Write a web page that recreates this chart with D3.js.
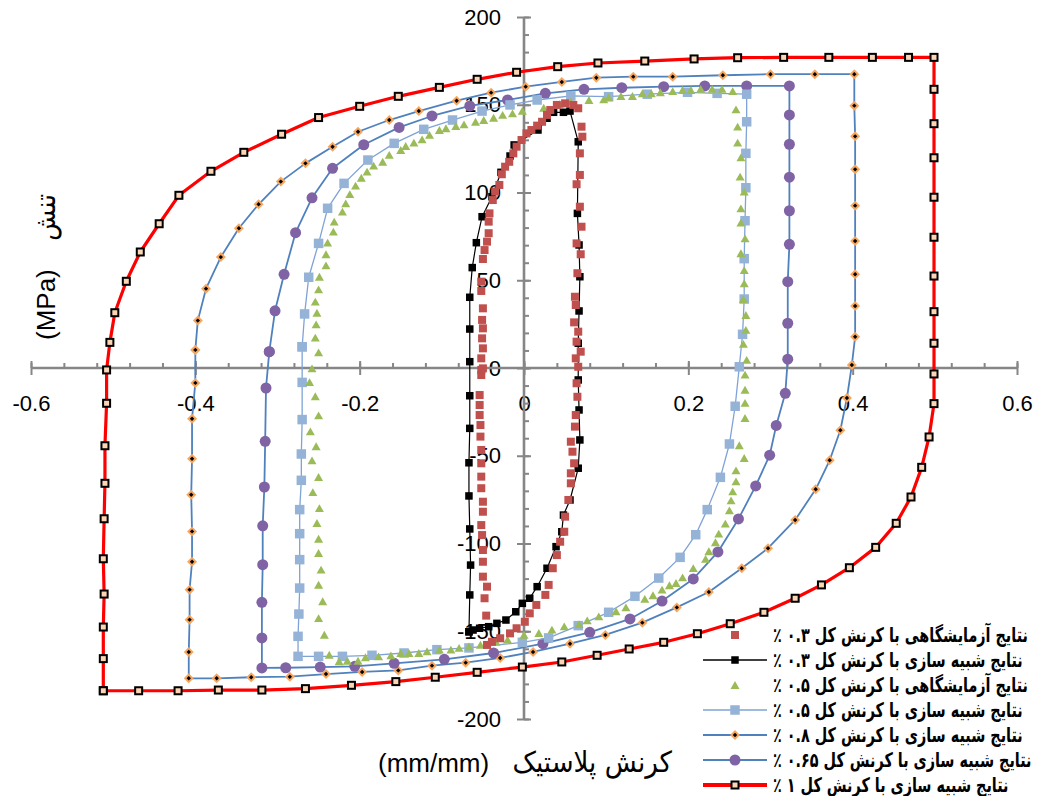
<!DOCTYPE html>
<html>
<head>
<meta charset="utf-8">
<script src="https://cdn.jsdelivr.net/npm/d3@7"></script>
<style>
  html, body { margin: 0; padding: 0; background: #fff; }
  svg { display: block; }
  .tick text { font-family: "Liberation Sans", Arial, sans-serif; font-size: 22px; fill: #000; }
</style>
</head>
<body>
<svg id="chart" width="1040" height="796"></svg>
<script>
// Plastic strain (mm/mm) vs stress (MPa) hysteresis loops

// Experimental, total strain 0.3 %
const exp03 = [[-0.052,-1.1],[-0.052,5.5],[-0.050,11.2],[-0.051,16.9],[-0.050,22.6],[-0.051,27.4],[-0.050,34.0],[-0.052,43.9],[-0.052,49.2],[-0.050,62.1],[-0.048,67.2],[-0.045,72.0],[-0.043,76.8],[-0.043,83.4],[-0.042,88.1],[-0.038,95.7],[-0.035,100.5],[-0.030,104.3],[-0.027,110.4],[-0.023,114.7],[-0.018,117.5],[-0.013,122.3],[-0.009,126.1],[-0.003,129.9],[0.003,133.7],[0.009,135.6],[0.016,138.1],[0.022,140.3],[0.028,144.2],[0.032,147.0],[0.040,149.9],[0.050,150.8],[0.060,149.9],[0.066,148.0],[0.070,137.5],[0.071,131.8],[0.068,122.3],[0.068,110.0],[0.064,104.7],[0.068,91.9],[0.070,80.5],[0.064,71.0],[0.069,64.8],[0.065,54.0],[0.062,40.6],[0.063,35.9],[0.061,26.0],[0.066,20.7],[0.064,15.0],[0.069,9.3],[0.063,5.5],[0.066,0.7],[0.064,-8.7],[0.065,-16.4],[0.063,-26.8],[0.062,-33.4],[0.057,-42.0],[0.059,-47.7],[0.061,-54.3],[0.057,-60.0],[0.057,-65.7],[0.054,-75.2],[0.050,-84.7],[0.049,-93.3],[0.044,-99.0],[0.040,-106.6],[0.035,-114.1],[0.030,-123.6],[0.026,-129.3],[0.015,-135.0],[0.007,-139.8],[0.001,-144.6],[-0.009,-148.3],[-0.017,-151.2],[-0.029,-154.0],[-0.039,-156.0],[-0.045,-157.8],[-0.046,-141.1],[-0.048,-131.2],[-0.045,-124.6],[-0.050,-118.9],[-0.050,-110.4],[-0.050,-103.7],[-0.051,-95.2],[-0.052,-89.5],[-0.050,-81.9],[-0.050,-76.2],[-0.052,-68.5],[-0.052,-61.9],[-0.052,-54.3],[-0.052,-46.7],[-0.053,-39.1],[-0.053,-32.5],[-0.054,-26.8],[-0.054,-21.1],[-0.054,-15.4],[-0.052,-4.0],[-0.050,-0.2]];

// Simulation, total strain 0.3 %
const sim03 = [[-0.067,-150.3],[-0.066,-129.3],[-0.065,-112.3],[-0.066,-91.7],[-0.067,-72.9],[-0.067,-54.0],[-0.066,-34.4],[-0.066,-15.8],[-0.066,3.6],[-0.066,22.2],[-0.066,40.3],[-0.063,57.2],[-0.058,71.4],[-0.051,86.2],[-0.039,97.6],[-0.028,111.5],[-0.017,120.8],[-0.012,127.1],[0.017,135.6],[0.028,142.3],[0.036,145.7],[0.048,145.7],[0.056,146.4],[0.066,128.9],[0.065,88.1],[0.067,70.1],[0.068,52.0],[0.067,32.5],[0.066,14.1],[0.066,-6.8],[0.067,-23.9],[0.068,-41.0],[0.066,-57.1],[0.056,-75.2],[0.048,-83.8],[0.046,-93.3],[0.039,-101.8],[0.028,-114.1],[0.016,-124.6],[0.007,-131.2],[-0.002,-134.1],[-0.010,-138.9],[-0.022,-143.6],[-0.033,-145.5],[-0.043,-147.4],[-0.054,-148.3],[-0.062,-149.3],[-0.067,-150.3]];

// Experimental, total strain 0.5 %
const exp05 = [[-0.258,-0.2],[-0.250,8.9],[-0.254,17.3],[-0.253,24.9],[-0.252,31.5],[-0.254,37.8],[-0.250,44.8],[-0.249,52.0],[-0.241,58.5],[-0.241,64.8],[-0.239,71.4],[-0.232,77.7],[-0.231,83.4],[-0.221,89.1],[-0.217,93.8],[-0.212,99.1],[-0.205,103.9],[-0.198,108.4],[-0.191,111.9],[-0.183,115.3],[-0.172,117.5],[-0.164,121.4],[-0.150,124.2],[-0.144,126.5],[-0.134,128.4],[-0.124,130.3],[-0.115,132.8],[-0.103,135.6],[-0.095,136.6],[-0.083,137.9],[-0.073,138.8],[-0.059,140.3],[-0.049,141.3],[-0.037,142.6],[-0.026,144.2],[-0.014,145.1],[-0.002,146.6],[0.024,148.3],[0.043,150.3],[0.057,151.7],[0.079,152.7],[0.097,153.1],[0.103,154.2],[0.118,155.0],[0.132,155.0],[0.144,156.5],[0.155,156.5],[0.166,157.1],[0.181,157.8],[0.193,158.4],[0.203,158.4],[0.215,159.0],[0.229,159.0],[0.241,159.0],[0.254,157.8],[0.258,147.4],[0.260,137.5],[0.260,128.4],[0.264,120.0],[0.263,109.0],[0.268,100.5],[0.264,91.0],[0.264,82.8],[0.269,73.9],[0.264,65.4],[0.268,55.8],[0.268,48.3],[0.267,39.3],[0.270,30.2],[0.270,21.7],[0.267,13.7],[0.271,4.6],[0.269,-3.8],[0.269,-12.4],[0.269,-19.9],[0.269,-28.5],[0.262,-44.0],[0.268,-51.3],[0.258,-58.3],[0.258,-64.6],[0.254,-70.3],[0.252,-75.4],[0.250,-81.1],[0.245,-88.7],[0.237,-94.4],[0.233,-99.3],[0.225,-104.4],[0.221,-108.8],[0.206,-114.0],[0.193,-119.3],[0.185,-122.5],[0.177,-123.8],[0.168,-126.3],[0.157,-129.5],[0.147,-131.6],[0.124,-136.4],[0.112,-138.6],[0.091,-141.5],[0.077,-143.8],[0.067,-145.9],[0.049,-147.2],[0.034,-149.1],[0.018,-151.0],[0.000,-152.0],[-0.020,-154.8],[-0.034,-156.1],[-0.053,-157.7],[-0.067,-158.6],[-0.079,-159.5],[-0.089,-160.5],[-0.103,-160.5],[-0.118,-161.4],[-0.128,-162.4],[-0.140,-162.4],[-0.150,-162.4],[-0.162,-163.7],[-0.177,-164.3],[-0.193,-164.8],[-0.202,-166.8],[-0.215,-166.8],[-0.225,-167.1],[-0.237,-163.4],[-0.243,-152.0],[-0.250,-142.5],[-0.245,-132.9],[-0.250,-123.5],[-0.247,-114.9],[-0.250,-105.4],[-0.250,-97.3],[-0.252,-88.3],[-0.249,-79.8],[-0.257,-70.7],[-0.250,-62.1],[-0.258,-52.6],[-0.253,-44.6],[-0.260,-36.1],[-0.250,-27.0],[-0.254,-16.1],[-0.261,-8.0]];

// Simulation, total strain 0.5 %
const sim05 = [[-0.270,12.1],[-0.267,30.8],[-0.262,51.7],[-0.250,71.0],[-0.239,91.0],[-0.219,105.2],[-0.190,118.5],[-0.158,128.0],[-0.122,136.0],[-0.087,141.3],[-0.051,146.4],[-0.017,149.9],[0.016,152.7],[0.057,155.0],[0.103,154.6],[0.150,156.0],[0.199,157.1],[0.235,156.5],[0.271,156.0],[0.271,140.3],[0.270,122.3],[0.270,102.7],[0.269,83.9],[0.268,62.3],[0.268,39.3],[0.266,19.2],[0.262,0.7],[0.257,-21.8],[0.250,-43.3],[0.239,-62.3],[0.223,-80.7],[0.209,-95.0],[0.190,-107.9],[0.164,-119.7],[0.135,-130.1],[0.103,-139.2],[0.066,-146.8],[0.030,-153.8],[-0.002,-156.3],[-0.067,-159.5],[-0.106,-160.5],[-0.146,-162.4],[-0.185,-163.7],[-0.221,-164.3],[-0.250,-164.3],[-0.275,-164.3],[-0.275,-152.9],[-0.274,-140.2],[-0.273,-125.4],[-0.273,-109.2],[-0.273,-94.4],[-0.273,-80.7],[-0.271,-64.0],[-0.271,-49.0],[-0.270,-29.4],[-0.270,-8.2],[-0.270,12.1]];

// Simulation, total strain 0.8 %
const sim08 = [[-0.400,10.3],[-0.397,27.0],[-0.387,45.2],[-0.369,63.2],[-0.347,79.6],[-0.323,93.3],[-0.296,106.2],[-0.266,116.6],[-0.233,126.1],[-0.202,134.6],[-0.164,141.3],[-0.128,146.4],[-0.082,152.3],[-0.040,156.9],[0.002,160.3],[0.046,163.0],[0.088,165.4],[0.133,166.0],[0.181,166.0],[0.242,166.8],[0.300,167.4],[0.354,167.4],[0.402,167.4],[0.402,149.5],[0.403,132.0],[0.403,113.2],[0.403,92.5],[0.403,72.4],[0.403,53.4],[0.403,35.3],[0.403,17.8],[0.399,1.7],[0.393,-17.1],[0.385,-35.5],[0.372,-52.6],[0.355,-69.1],[0.330,-86.6],[0.297,-102.7],[0.265,-114.1],[0.225,-127.6],[0.186,-136.4],[0.144,-145.1],[0.099,-152.1],[0.056,-157.1],[0.011,-161.8],[-0.029,-165.2],[-0.071,-167.9],[-0.112,-169.6],[-0.153,-172.3],[-0.197,-173.2],[-0.241,-174.4],[-0.285,-175.9],[-0.332,-176.2],[-0.374,-176.8],[-0.408,-176.8],[-0.408,-161.8],[-0.407,-143.4],[-0.407,-126.3],[-0.404,-110.4],[-0.404,-93.1],[-0.405,-72.2],[-0.404,-51.7],[-0.404,-28.9],[-0.400,-8.5],[-0.400,10.3]];

// Simulation, total strain 0.65 %
const sim065 = [[-0.310,9.3],[-0.303,32.6],[-0.292,53.4],[-0.278,77.1],[-0.258,97.0],[-0.233,113.8],[-0.195,127.2],[-0.152,137.1],[-0.112,143.6],[-0.066,149.3],[-0.020,152.7],[0.026,156.5],[0.073,158.8],[0.119,159.7],[0.170,160.3],[0.220,160.7],[0.271,160.7],[0.323,160.7],[0.323,144.2],[0.323,127.5],[0.323,108.7],[0.323,89.6],[0.323,70.5],[0.321,49.2],[0.321,25.5],[0.321,5.0],[0.318,-14.4],[0.307,-32.7],[0.299,-49.7],[0.282,-67.2],[0.261,-86.0],[0.236,-104.8],[0.206,-120.2],[0.168,-132.8],[0.129,-143.0],[0.080,-150.6],[0.023,-157.1],[-0.037,-162.4],[-0.097,-166.0],[-0.158,-168.3],[-0.206,-170.0],[-0.248,-170.4],[-0.290,-170.8],[-0.319,-170.9],[-0.319,-153.8],[-0.319,-133.5],[-0.318,-112.1],[-0.318,-89.9],[-0.316,-67.8],[-0.315,-41.8],[-0.314,-11.4],[-0.310,9.3]];

// Simulation, total strain 1 %
const sim1 = [[-0.512,-183.9],[-0.512,-165.6],[-0.512,-147.6],[-0.511,-128.8],[-0.512,-108.7],[-0.511,-85.9],[-0.510,-65.7],[-0.510,-44.3],[-0.508,-20.1],[-0.508,-1.1],[-0.504,14.6],[-0.498,31.5],[-0.484,49.4],[-0.467,66.1],[-0.444,82.2],[-0.420,98.4],[-0.381,112.1],[-0.341,122.9],[-0.295,133.2],[-0.250,142.7],[-0.200,149.1],[-0.153,154.8],[-0.103,159.9],[-0.057,164.5],[-0.009,168.5],[0.041,171.7],[0.090,173.8],[0.147,174.9],[0.207,176.1],[0.260,176.8],[0.316,177.0],[0.371,177.0],[0.424,177.0],[0.468,177.0],[0.499,177.0],[0.499,158.8],[0.499,139.2],[0.499,119.8],[0.499,97.3],[0.499,74.5],[0.499,52.4],[0.499,32.1],[0.499,14.1],[0.499,-3.4],[0.499,-20.3],[0.493,-39.3],[0.484,-56.6],[0.471,-73.5],[0.453,-88.5],[0.428,-102.2],[0.396,-113.8],[0.362,-123.6],[0.330,-131.2],[0.292,-139.2],[0.251,-145.7],[0.211,-151.4],[0.170,-156.3],[0.128,-160.1],[0.089,-163.7],[0.046,-167.5],[-0.002,-170.4],[-0.057,-173.4],[-0.108,-176.2],[-0.156,-178.7],[-0.210,-180.8],[-0.266,-182.7],[-0.319,-183.5],[-0.372,-183.5],[-0.421,-183.9],[-0.469,-183.9],[-0.512,-183.9]];

// Axis ticks
const xMajorTicks = [-0.6, -0.4, -0.2, 0, 0.2, 0.4, 0.6];
const yMajorTicks = [-200, -150, -100, -50, 0, 50, 100, 150, 200];

// Legend entries (top to bottom)
const legendLabels = [
  "نتایج آزمایشگاهی با کرنش کل ۰.۳ ٪",
  "نتایج شبیه سازی با کرنش کل ۰.۳ ٪",
  "نتایج آزمایشگاهی با کرنش کل ۰.۵ ٪",
  "نتایج شبیه سازی با کرنش کل ۰.۵ ٪",
  "نتایج شبیه سازی با کرنش کل ۰.۸ ٪",
  "نتایج شبیه سازی با کرنش کل ۰.۶۵ ٪",
  "نتایج شبیه سازی با کرنش کل ۱ ٪"
];

const xTitle = "کرنش پلاستیک";
const xUnit = "(mm/mm)";
const yTitle = "تنش";
const yUnit = "(MPa)";

// ---------------------------------------------------------------
const svg = d3.select("#chart");
const x = d3.scaleLinear().domain([-0.6, 0.6]).range([31, 1017]);
const y = d3.scaleLinear().domain([-200, 200]).range([719, 17]);
const x0 = x(0), y0 = y(0);
const axisColor = "#868686";
const persianFont = "DejaVu Sans Condensed, DejaVu Sans, sans-serif";

// Series styles
const styles = {
  exp03:  { line: null, marker: "square", fill: "#c0504d", size: 8 },
  sim03:  { line: "#000", lw: 1.2, marker: "square", fill: "#000", size: 7.5 },
  exp05:  { line: null, marker: "triangle", fill: "#9bbb59", size: 9 },
  sim05:  { line: "#7fa3d6", lw: 1.3, marker: "square", fill: "#95b3d7", size: 9.5 },
  sim08:  { line: "#4f81bd", lw: 1.8, marker: "diamond", fill: "#f7a65e", size: 10 },
  sim065: { line: "#4f81bd", lw: 1.8, marker: "circle", fill: "#7f63a4", size: 11 },
  sim1:   { line: "#ff0000", lw: 3.2, marker: "squareOpen", fill: "#fcd5b4", stroke: "#000", size: 7 }
};

// ---------- axes ----------
const axes = svg.append("g");
const fmtX = d => d === 0 ? "0" : d.toFixed(1);
const fmtY = d => String(d);

// x axis: labels below, major ticks crossing, minor ticks on the top side
const xMinor = d3.range(-15, 16).map(i => i * 0.04);
axes.append("g").attr("transform", `translate(0,${y0})`)
  .call(d3.axisTop(x).tickValues(xMinor).tickSize(5).tickFormat(""))
  .call(g => g.select(".domain").remove());
axes.append("g").attr("transform", `translate(0,${y0})`)
  .call(d3.axisTop(x).tickValues(xMajorTicks).tickSize(7).tickFormat(""))
  .call(g => g.select(".domain").remove());
axes.append("g").attr("transform", `translate(0,${y0})`)
  .call(d3.axisBottom(x).tickValues(xMajorTicks).tickSize(7).tickPadding(20).tickFormat(fmtX))
  .call(g => g.select(".domain").remove());

// y axis: labels on the left, major ticks crossing, minor ticks on the right side
const yMinor = d3.range(-20, 21).map(i => i * 10);
axes.append("g").attr("transform", `translate(${x0},0)`)
  .call(d3.axisRight(y).tickValues(yMinor).tickSize(5).tickFormat(""))
  .call(g => g.select(".domain").remove());
axes.append("g").attr("transform", `translate(${x0},0)`)
  .call(d3.axisRight(y).tickValues(yMajorTicks).tickSize(7).tickFormat(""))
  .call(g => g.select(".domain").remove());
axes.append("g").attr("transform", `translate(${x0},0)`)
  .call(d3.axisLeft(y).tickValues(yMajorTicks).tickSize(7).tickPadding(16).tickFormat(fmtY))
  .call(g => g.select(".domain").remove());

axes.selectAll(".tick line").attr("stroke", axisColor).attr("stroke-width", 2);
axes.append("line").attr("x1", x(-0.6)).attr("x2", x(0.6)).attr("y1", y0).attr("y2", y0)
  .attr("stroke", axisColor).attr("stroke-width", 2.6);
axes.append("line").attr("x1", x0).attr("x2", x0).attr("y1", y(200)).attr("y2", y(-200))
  .attr("stroke", axisColor).attr("stroke-width", 2.6);

// ---------- axis titles ----------
svg.append("text")
  .attr("x", 378).attr("y", 772)
  .attr("font-family", "Liberation Sans, Arial, sans-serif")
  .attr("font-size", 26).attr("fill", "#000")
  .text(xUnit);
svg.append("text")
  .attr("x", 672).attr("y", 772).attr("text-anchor", "end")
  .attr("font-family", persianFont)
  .attr("font-size", 29).attr("fill", "#000")
  .text(xTitle);

const yt = svg.append("g").attr("transform", "translate(55,0) rotate(-90)");
yt.append("text").attr("x", -340).attr("y", 0)
  .attr("font-family", "Liberation Sans, Arial, sans-serif")
  .attr("font-size", 26).attr("fill", "#000").text(yUnit);
yt.append("text").attr("x", -194).attr("y", 0).attr("text-anchor", "end")
  .attr("font-family", persianFont)
  .attr("font-size", 28).attr("fill", "#000").text(yTitle);

// ---------- markers ----------
function drawMarker(g, kind, cx, cy, st) {
  const s = st.size;
  if (kind === "square") {
    g.append("rect").attr("x", cx - s / 2).attr("y", cy - s / 2).attr("width", s).attr("height", s)
      .attr("fill", st.fill);
  } else if (kind === "squareOpen") {
    g.append("rect").attr("x", cx - s / 2).attr("y", cy - s / 2).attr("width", s).attr("height", s)
      .attr("fill", st.fill).attr("stroke", st.stroke).attr("stroke-width", 2);
  } else if (kind === "triangle") {
    const h = s * 0.87;
    g.append("path")
      .attr("d", `M${cx},${cy - h / 2}L${cx + s / 2},${cy + h / 2}L${cx - s / 2},${cy + h / 2}Z`)
      .attr("fill", st.fill);
  } else if (kind === "diamond") {
    const r = s / 2;
    g.append("path")
      .attr("d", `M${cx},${cy - r}L${cx + r},${cy}L${cx},${cy + r}L${cx - r},${cy}Z`)
      .attr("fill", st.fill);
    const q = 2.2;
    g.append("path")
      .attr("d", `M${cx},${cy - q}L${cx + q},${cy}L${cx},${cy + q}L${cx - q},${cy}Z`)
      .attr("fill", "#000");
  } else if (kind === "circle") {
    g.append("circle").attr("cx", cx).attr("cy", cy).attr("r", s / 2).attr("fill", st.fill);
  }
}

const line = d3.line().x(d => x(d[0])).y(d => y(d[1]));

function drawSeries(data, st) {
  const g = svg.append("g");
  if (st.line) {
    g.append("path").datum(data).attr("d", line)
      .attr("fill", "none").attr("stroke", st.line).attr("stroke-width", st.lw)
      .attr("stroke-linejoin", "round");
  }
  data.forEach(d => drawMarker(g, st.marker, x(d[0]), y(d[1]), st));
}

drawSeries(sim1, styles.sim1);
drawSeries(sim08, styles.sim08);
drawSeries(sim065, styles.sim065);
drawSeries(sim05, styles.sim05);
drawSeries(exp05, styles.exp05);
drawSeries(sim03, styles.sim03);
drawSeries(exp03, styles.exp03);

// ---------- legend ----------
const legendOrder = ["exp03", "sim03", "exp05", "sim05", "sim08", "sim065", "sim1"];
const legend = svg.append("g");
const legendTexts = [];
legendOrder.forEach((key, i) => {
  const st = styles[key];
  const ly = 635 + i * 25;
  const row = legend.append("g");
  if (st.line) {
    row.append("line").attr("x1", 703).attr("x2", 767).attr("y1", ly).attr("y2", ly)
      .attr("stroke", st.line).attr("stroke-width", st.lw + (key === "sim1" ? 0.8 : 0.4));
  }
  drawMarker(row, st.marker, 735, ly, st);
  const holder = row.append("g").attr("transform", `translate(773,${ly + 7})`);
  legendTexts.push(holder.append("text")
    .attr("x", 0).attr("y", 0)
    .attr("direction", "rtl").attr("text-anchor", "end")
    .attr("font-family", persianFont).attr("font-weight", "bold")
    .attr("font-size", 20).attr("fill", "#000")
    .text(legendLabels[i]));
});
// squeeze the legend text horizontally so the first entry spans about 255 px
const w0 = legendTexts[0].node().getComputedTextLength();
const squeeze = 255 / w0;
legendTexts.forEach(t => t.attr("transform", `scale(${squeeze},1)`));
</script>
</body>
</html>
